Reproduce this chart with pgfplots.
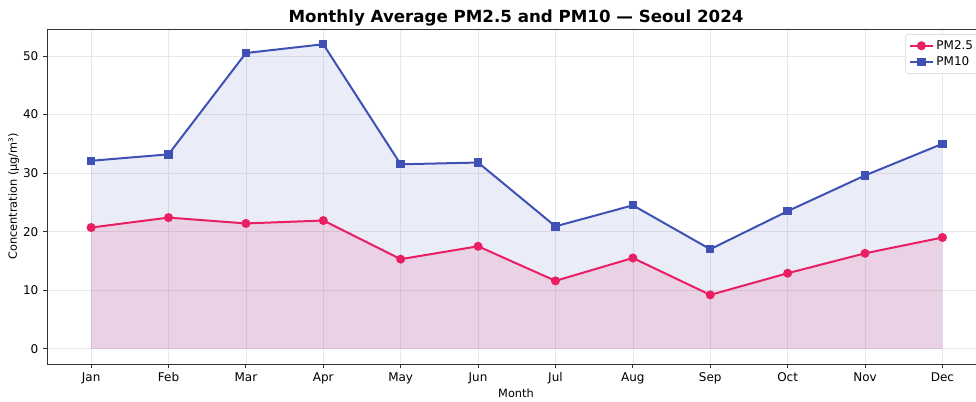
\documentclass[border=0pt]{standalone}
\usepackage{pgfplots}
\pgfplotsset{compat=1.18}
\usepackage{fontspec}
\setmainfont{DejaVu Sans}
\definecolor{pmtwo}{HTML}{E91E63}
\definecolor{pmten}{HTML}{3F51B5}

\begin{document}
\begin{tikzpicture}
\begin{axis}[
    at={(0,0)}, anchor=south west,
    scale only axis,
    width=703.5pt, height=251.25pt,
    xmin=-0.57, xmax=11.55,
    ymin=-2.6, ymax=54.6,
    xtick={0,...,11},
    xticklabels={Jan,Feb,Mar,Apr,May,Jun,Jul,Aug,Sep,Oct,Nov,Dec},
    ytick={0,10,20,30,40,50},
    tick align=outside,
    tick pos=left,
    major tick length=3pt,
    tick style={black!80, line width=0.6pt},
    axis line style={black!80, line width=0.6pt},
    grid=major,
    grid style={gray!18, line width=0.5pt},
    ticklabel style={font=\fontsize{9}{10}\selectfont},
    /pgf/number format/assume math mode=true,
    xlabel={Month},
    ylabel={Concentration (µg/m³)},
    label style={font=\fontsize{8.5}{9}\selectfont},
    xlabel style={yshift=3pt},
    ylabel style={yshift=-4pt},
    title={\textbf{Monthly Average PM2.5 and PM10 — Seoul 2024}},
    title style={font=\fontsize{12.5}{14}\selectfont, yshift=-7pt},
    legend style={at={(0.994,0.985)}, anchor=north east,
        font=\fontsize{9}{11}\selectfont, draw=gray!35, rounded corners=2pt,
        row sep=0pt, inner sep=2.5pt},
    legend cell align=left,
]
\addplot[draw=none, fill=pmten, fill opacity=0.11, forget plot] coordinates {
  (0,0) (0,32.1) (1,33.2) (2,50.5) (3,52.0) (4,31.5) (5,31.8) (6,20.9) (7,24.5) (8,17.0) (9,23.5) (10,29.6) (11,35.0) (11,0)
} -- cycle;
\addplot[draw=none, fill=pmtwo, fill opacity=0.12, forget plot] coordinates {
  (0,0) (0,20.7) (1,22.4) (2,21.4) (3,21.9) (4,15.3) (5,17.5) (6,11.6) (7,15.5) (8,9.2) (9,12.9) (10,16.3) (11,19.0) (11,0)
} -- cycle;
\addplot[pmtwo, line width=1.5pt, mark=*, mark size=2.6pt] coordinates {
  (0,20.7) (1,22.4) (2,21.4) (3,21.9) (4,15.3) (5,17.5) (6,11.6) (7,15.5) (8,9.2) (9,12.9) (10,16.3) (11,19.0)
};
\addlegendentry{PM2.5}
\addplot[pmten, line width=1.5pt, mark=square*, mark size=2.4pt] coordinates {
  (0,32.1) (1,33.2) (2,50.5) (3,52.0) (4,31.5) (5,31.8) (6,20.9) (7,24.5) (8,17.0) (9,23.5) (10,29.6) (11,35.0)
};
\addlegendentry{PM10}
\end{axis}
\pgfresetboundingbox
\useasboundingbox (-35.25pt,-27.75pt) rectangle (696.75pt,273pt);
\end{tikzpicture}
\end{document}
